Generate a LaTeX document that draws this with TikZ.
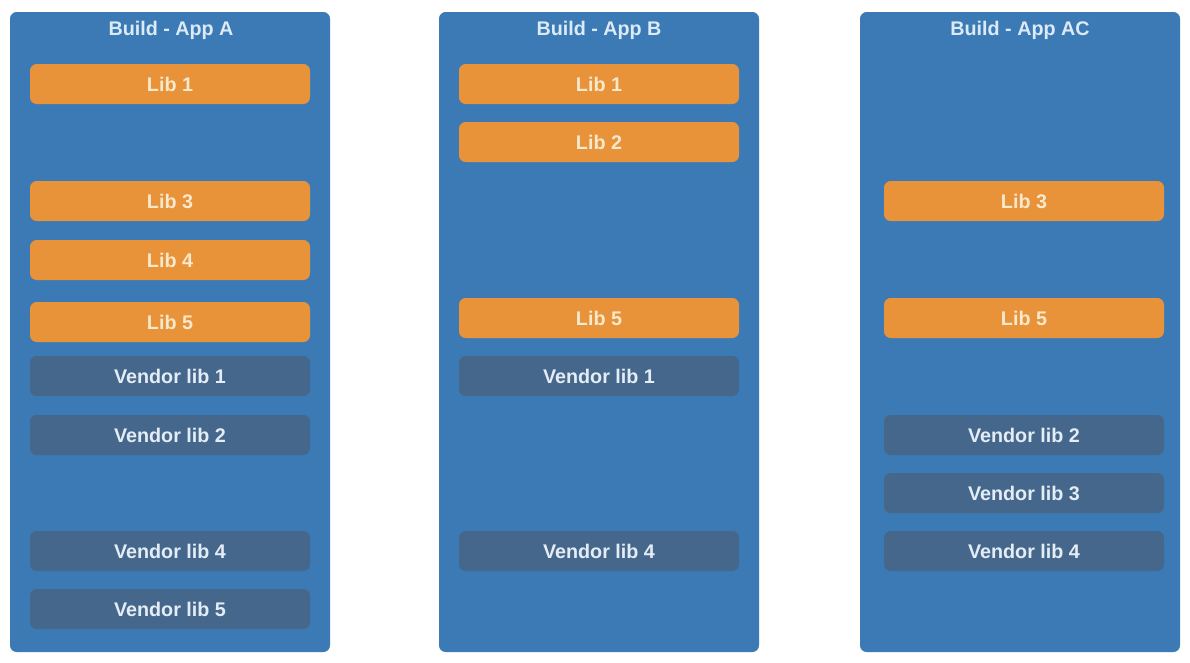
\documentclass[tikz,border=0pt]{standalone}
\usepackage{fontspec}
\setmainfont{Liberation Sans}
\definecolor{colblue}{HTML}{3B7AB5}
\definecolor{libor}{HTML}{E8923A}
\definecolor{vendk}{HTML}{45678C}
\definecolor{titletxt}{HTML}{DCEAF6}
\definecolor{libtxt}{HTML}{F8E9CC}
\definecolor{vendtxt}{HTML}{E4EDF5}
\begin{document}
\begin{tikzpicture}[x=0.75pt,y=-0.75pt,
  column/.style={fill=colblue, rounded corners=5pt, draw=none},
  libbox/.style={fill=libor, rounded corners=5pt, minimum width=210pt, minimum height=30pt, inner sep=0pt, text=libtxt, font=\bfseries\fontsize{14.8}{17}\selectfont},
  vendbox/.style={fill=vendk, rounded corners=5pt, minimum width=210pt, minimum height=30pt, inner sep=0pt, text=vendtxt, font=\bfseries\fontsize{14.8}{17}\selectfont},
  coltitle/.style={text=titletxt, font=\bfseries\fontsize{14.8}{17}\selectfont}]
\useasboundingbox (0,0) rectangle (1190,662);
\fill[white] (0,0) rectangle (1190,662);
% columns
\fill[column] (10,12) rectangle (330,652);
\fill[column] (439,12) rectangle (759,652);
\fill[column] (860,12) rectangle (1180,652);
\node[coltitle] (tA) at (171,30) {Build - App A};
\node[coltitle] (tB) at (599,30) {Build - App B};
\node[coltitle] (tC) at (1020,30) {Build - App AC};
% App A
\node[libbox] (a1) at (170,84) {Lib 1};
\node[libbox] (a3) at (170,201) {Lib 3};
\node[libbox] (a4) at (170,260) {Lib 4};
\node[libbox] (a5) at (170,322) {Lib 5};
\node[vendbox] (av1) at (170,376) {Vendor lib 1};
\node[vendbox] (av2) at (170,435) {Vendor lib 2};
\node[vendbox] (av4) at (170,551) {Vendor lib 4};
\node[vendbox] (av5) at (170,609) {Vendor lib 5};
% App B
\node[libbox] (b1) at (599,84) {Lib 1};
\node[libbox] (b2) at (599,142) {Lib 2};
\node[libbox] (b5) at (599,318) {Lib 5};
\node[vendbox] (bv1) at (599,376) {Vendor lib 1};
\node[vendbox] (bv4) at (599,551) {Vendor lib 4};
% App AC
\node[libbox] (c3) at (1024,201) {Lib 3};
\node[libbox] (c5) at (1024,318) {Lib 5};
\node[vendbox] (cv2) at (1024,435) {Vendor lib 2};
\node[vendbox] (cv3) at (1024,493) {Vendor lib 3};
\node[vendbox] (cv4) at (1024,551) {Vendor lib 4};
\end{tikzpicture}
\end{document}
